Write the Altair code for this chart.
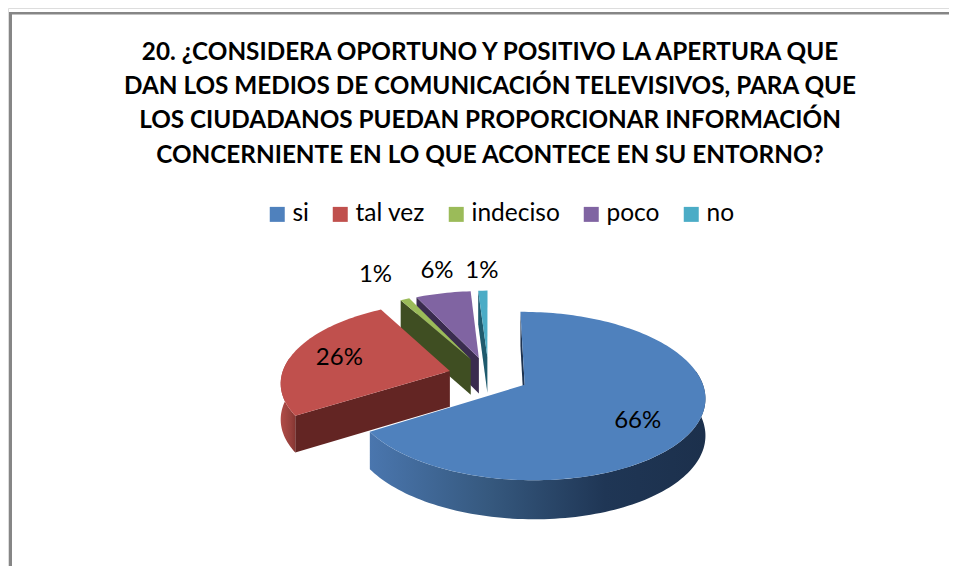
import math
import altair as alt
import pandas as pd

# ---- chart values ----
categories = ["si", "tal vez", "indeciso", "poco", "no"]
percent = [66, 26, 1, 6, 1]
top_colors = ["#4F81BD", "#C0504D", "#9BBB59", "#8064A2", "#4BACC6"]
face_colors = ["#1E3350", "#632523", "#3F4E22", "#3A2C4F", "#1F5B6E"]
title_lines = [
    "20. ¿CONSIDERA OPORTUNO Y POSITIVO LA APERTURA QUE",
    "DAN LOS MEDIOS DE COMUNICACIÓN TELEVISIVOS, PARA QUE",
    "LOS CIUDADANOS PUEDAN PROPORCIONAR INFORMACIÓN",
    "CONCERNIENTE EN LO QUE ACONTECE EN SU ENTORNO?",
]

# ---- tilted pie projection ----
CX, CY, RX, RY = 488.6, 375.6, 172.0, 80.0
P_V, P_U, DEPTH, EXPLODE = 0.131, 0.015, 36.0, 0.235
label_radius = [0.72, 0.70, 1.49, 1.39, 1.34]
label_turn = [6.0, 0.0, -0.6, 1.7, 0.1]
FONT = "Lato"


def project(u, v, drop=0.0):
    s = 1.0 / (1.0 - P_V * v - P_U * u)
    return CX + RX * u * s, CY + RY * v * s + drop * math.sqrt(s)


def polar(theta):
    a = math.radians(theta)
    return math.sin(a), -math.cos(a)


starts = []
acc = 0.0
for p in percent:
    starts.append(acc)
    acc += p * 3.6

faces, tops, walls, labels = [], [], [], []
paint_order = [4, 3, 2, 1, 0]
for rank, i in enumerate(paint_order):
    a0 = starts[i]
    a1 = a0 + percent[i] * 3.6
    mid = (a0 + a1) / 2
    mu, mv = polar(mid)
    ou, ov = EXPLODE * mu, EXPLODE * mv

    def at(theta, r=1.0):
        du, dv = polar(theta)
        return ou + r * du, ov + r * dv

    n = max(2, int((a1 - a0) / 1.5))
    arc = [a0 + (a1 - a0) * k / n for k in range(n + 1)]

    # top surface
    ring = [(ou, ov)] + [at(t) for t in arc]
    for k, (u, v) in enumerate(ring):
        x, y = project(u, v)
        tops.append(dict(cat=categories[i], rank=rank, k=k, x=x, y=y))

    # cut face that looks at the viewer
    eu, ev = at(a0)
    quad = [(ou, ov, 0), (eu, ev, 0), (eu, ev, DEPTH), (ou, ov, DEPTH)]
    for k, (u, v, d) in enumerate(quad):
        x, y = project(u, v, d)
        faces.append(dict(cat=categories[i], pid=f"{i}", rank=rank, k=k, x=x, y=y))

    # outer wall
    lo, hi = max(a0, 80.0), min(a1, 280.0)
    if hi > lo:
        m = max(2, int((hi - lo) / 1.5))
        ws = [lo + (hi - lo) * k / m for k in range(m + 1)]
        pts = [(t, 0) for t in ws] + [(t, DEPTH) for t in reversed(ws)]
        for k, (t, d) in enumerate(pts):
            u, v = at(t)
            x, y = project(u, v, d)
            walls.append(dict(cat=categories[i], k=k, x=x, y=y))

    lu, lv = at(mid + label_turn[i], label_radius[i])
    lx, ly = project(lu, lv)
    labels.append(dict(text=f"{percent[i]}%", x=lx, y=ly))

# ---- scales: one unit is one page pixel ----
W, H = 941, 558
sx = alt.Scale(domain=[8, 8 + W], range=[0, W], nice=False, zero=False)
sy = alt.Scale(domain=[8, 8 + H], range=[0, H], nice=False, zero=False)
X = alt.X("x:Q", scale=sx, axis=None)
Y = alt.Y("y:Q", scale=sy, axis=None)

frame_top = alt.Chart(pd.DataFrame({"x": [9], "x2": [8 + W], "y": [13.3]})).mark_rule(
    color="#868686", strokeWidth=2.6
).encode(x=X, x2="x2:Q", y=Y)
frame_left = alt.Chart(pd.DataFrame({"x": [10.5], "y": [12], "y2": [8 + H]})).mark_rule(
    color="#868686", strokeWidth=3
).encode(x=X, y=Y, y2="y2:Q")

layers = [frame_top, frame_left]


def grad(stops):
    return alt.LinearGradient(
        gradient="linear",
        x1=0, x2=1, y1=0, y2=0,
        stops=[alt.GradientStop(color=c, offset=o) for o, c in stops],
    )


wall_fill = {
    "si": grad([(0, "#4A76AE"), (0.35, "#36597F"), (0.7, "#1F3655"), (1, "#1C304C")]),
    "tal vez": grad([(0, "#B04C48"), (0.7, "#96403C"), (1, "#863632")]),
}

for rank, i in enumerate(paint_order):
    cat = categories[i]
    f = pd.DataFrame([r for r in faces if r["cat"] == cat])
    layers.append(
        alt.Chart(f).mark_line(fill=face_colors[i], strokeWidth=0, interpolate="linear").encode(
            x=X, y=Y, order="k:Q", detail="pid:N"
        )
    )
    w = pd.DataFrame([r for r in walls if r["cat"] == cat])
    if len(w):
        layers.append(
            alt.Chart(w).mark_line(fill=wall_fill[cat], strokeWidth=0).encode(x=X, y=Y, order="k:Q")
        )
    t = pd.DataFrame([r for r in tops if r["cat"] == cat])
    layers.append(
        alt.Chart(t).mark_line(strokeWidth=0).encode(
            x=X,
            y=Y,
            order="k:Q",
            fill=alt.Fill(
                "cat:N",
                scale=alt.Scale(domain=categories, range=top_colors),
                legend=alt.Legend(
                    orient="none",
                    legendX=257,
                    legendY=194,
                    direction="horizontal",
                    columns=5,
                    title=None,
                    symbolType="square",
                    symbolSize=225,
                    symbolStrokeWidth=0,
                    labelFont=FONT,
                    labelFontSize=24.5,
                    labelColor="#000000",
                    labelOffset=3,
                    columnPadding=19,
                ),
            ),
        )
    )

layers.append(
    alt.Chart(pd.DataFrame(labels)).mark_text(font=FONT, fontSize=24, color="#000000").encode(
        x=X, y=Y, text="text:N"
    )
)

chart = (
    alt.layer(*layers)
    .resolve_scale(fill="shared")
    .properties(
        width=W,
        height=H,
        padding=0,
        autosize=alt.AutoSizeParams(type="none"),
        title=alt.TitleParams(
            text=title_lines,
            font=FONT,
            fontSize=24.3,
            fontWeight="bold",
            color="#000000",
            anchor="middle",
            align="center",
            lineHeight=34.3,
            baseline="top",
            offset=0,
            dx=11.5,
            dy=160,
        ),
    )
    .configure_view(stroke=None)
    .configure(background="#FFFFFF")
)

chart.save("out.html", embed_options={"renderer": "svg", "actions": False})
